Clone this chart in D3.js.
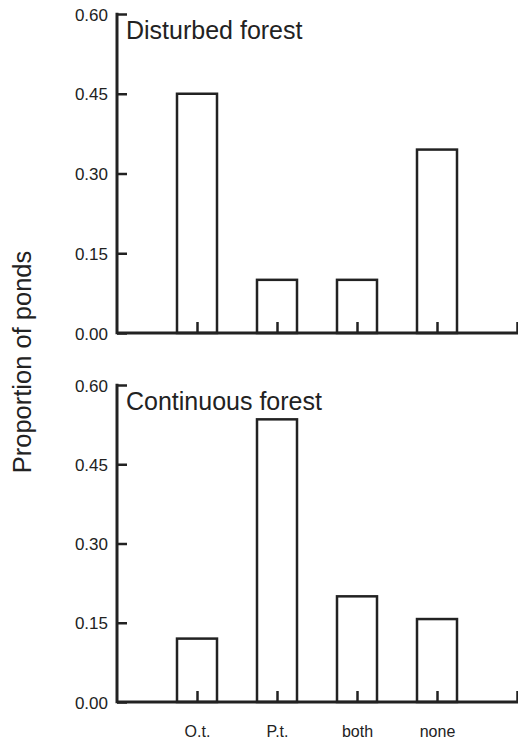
<!DOCTYPE html>
<html>
<head>
<meta charset="utf-8">
<script src="https://cdn.jsdelivr.net/npm/d3@7"></script>
<style>
  body { margin: 0; background: #fff; }
  text { font-family: "Liberation Sans", Arial, sans-serif; fill: #222; }
</style>
</head>
<body>
<div id="chart-area"></div>
<script>
// categories and values
var categories = ["O.t.", "P.t.", "both", "none"];
var disturbed = [0.45, 0.10, 0.10, 0.345];
var continuous = [0.12, 0.535, 0.20, 0.157];
var yTicks = [0, 0.15, 0.30, 0.45, 0.60];
var panelTitles = ["Disturbed forest", "Continuous forest"];

var width = 518, height = 744;
var svg = d3.select("#chart-area")
  .append("svg")
    .attr("width", width)
    .attr("height", height);

var x = d3.scaleLinear()
    .domain([0, 5])
    .range([117, 517]);

var panels = [
  {title: panelTitles[0], values: disturbed, top: 14, bottom: 333},
  {title: panelTitles[1], values: continuous, top: 385, bottom: 702}
];

var ink = "#222";

panels.forEach((p, pi) => {
    var y = d3.scaleLinear()
        .domain([0, 0.6])
        .range([p.bottom, p.top]);

    var g = svg.append("g");

    // bars
    g.selectAll("rect").data(p.values)
      .enter()
      .append("rect")
        .attr("x", (d, i) => x(i + 1) - 20)
        .attr("y", (d) => y(d))
        .attr("width", 40)
        .attr("height", (d) => p.bottom - y(d))
        .attr("fill", "none")
        .attr("stroke", ink)
        .attr("stroke-width", 2.5);

    // y axis, ticks inward
    var yAxis = d3.axisRight(y)
        .tickValues(yTicks)
        .tickSize(10)
        .tickFormat(d3.format(".2f"));
    var ya = g.append("g")
        .attr("transform", "translate(" + x(0) + ",0)")
        .call(yAxis);
    ya.attr("font-size", null).attr("font-family", null);
    ya.select(".domain").remove();
    ya.selectAll("line").attr("stroke", ink).attr("stroke-width", 2.5);
    ya.selectAll("text")
        .attr("x", -9)
        .attr("dy", "0.36em")
        .attr("text-anchor", "end")
        .style("font-size", "17px")
        .attr("fill", ink);
    g.append("line")
        .attr("x1", x(0)).attr("x2", x(0))
        .attr("y1", y(0.6) - 1.25).attr("y2", p.bottom + 1.25)
        .attr("stroke", ink).attr("stroke-width", 3);

    // x axis, ticks upward
    var xAxis = d3.axisTop(x)
        .tickValues([1, 2, 3, 4, 5])
        .tickSize(11)
        .tickFormat((d) => pi === 1 && d <= 4 ? categories[d - 1] : "");
    var xa = g.append("g")
        .attr("transform", "translate(0," + p.bottom + ")")
        .call(xAxis);
    xa.attr("font-size", null).attr("font-family", null);
    xa.select(".domain").remove();
    xa.selectAll("line").attr("stroke", ink).attr("stroke-width", 2.5);
    xa.selectAll("text")
        .attr("y", 35)
        .attr("dy", 0)
        .style("font-size", "16px")
        .attr("fill", ink);
    g.append("line")
        .attr("x1", x(0)).attr("x2", x(5) + 1.25)
        .attr("y1", p.bottom).attr("y2", p.bottom)
        .attr("stroke", ink).attr("stroke-width", 3);

    g.append("text")
        .attr("x", 126)
        .attr("y", p.top + 25)
        .style("font-size", "25px")
        .text(p.title);
});

svg.append("text")
    .attr("transform", "translate(31, 362) rotate(-90)")
    .attr("text-anchor", "middle")
    .style("font-size", "25.5px")
    .text("Proportion of ponds");
</script>
</body>
</html>
